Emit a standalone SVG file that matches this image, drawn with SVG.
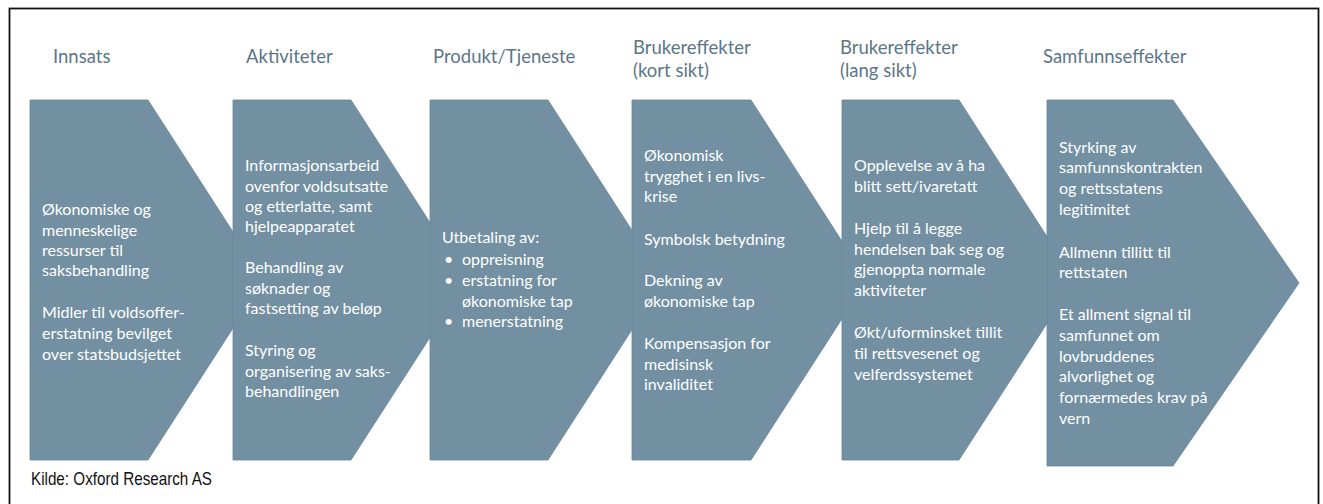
<svg xmlns="http://www.w3.org/2000/svg" width="1323" height="504" viewBox="0 0 1323 504">
<style>
.shape{fill:#7290A2;stroke:#68879A;stroke-width:0.8}
.hd{font-family:Lato,"Liberation Sans",sans-serif;font-size:18.5px;fill:#5D7687}
.tx{font-family:Lato,"Liberation Sans",sans-serif;font-size:16px;fill:#FFFFFF}
.src{font-family:"Liberation Sans Narrow","Liberation Sans",Arial,sans-serif;font-size:19px;fill:#111111}
</style>
<rect x="0" y="0" width="1323" height="504" fill="#FFFFFF"/>
<rect id="frame" x="9.5" y="8.5" width="1309" height="500" fill="none" stroke="#111111" stroke-width="1.8"/>
<g id="n1">
<text class="hd" x="53" y="63">Innsats</text>
<polygon class="shape" points="30,100 148,100 264,280 148,460 30,460"/>
<text class="tx"><tspan x="42" y="215">Økonomiske og</tspan><tspan x="42" y="236">menneskelige</tspan><tspan x="42" y="256">ressurser til</tspan><tspan x="42" y="276">saksbehandling</tspan><tspan x="42" y="318">Midler til voldsoffer-</tspan><tspan x="42" y="339">erstatning bevilget</tspan><tspan x="42" y="360">over statsbudsjettet</tspan></text>
</g>
<g id="n2">
<text class="hd" x="246" y="63">Aktiviteter</text>
<polygon class="shape" points="233,100 351,100 467,280 351,460 233,460"/>
<text class="tx"><tspan x="245" y="171">Informasjonsarbeid</tspan><tspan x="245" y="192">ovenfor voldsutsatte</tspan><tspan x="245" y="212">og etterlatte, samt</tspan><tspan x="245" y="232">hjelpeapparatet</tspan><tspan x="245" y="273">Behandling av</tspan><tspan x="245" y="294">søknader og</tspan><tspan x="245" y="314">fastsetting av beløp</tspan><tspan x="245" y="356">Styring og</tspan><tspan x="245" y="377">organisering av saks-</tspan><tspan x="245" y="397">behandlingen</tspan></text>
</g>
<g id="n3">
<text class="hd" x="433" y="63">Produkt/Tjeneste</text>
<polygon class="shape" points="430,100 548,100 664,280 548,460 430,460"/>
<text class="tx"><tspan x="442" y="243">Utbetaling av:</tspan><tspan x="444" y="265">•</tspan><tspan x="462" y="265">oppreisning</tspan><tspan x="444" y="286">•</tspan><tspan x="462" y="286">erstatning for</tspan><tspan x="462" y="307">økonomiske tap</tspan><tspan x="444" y="327">•</tspan><tspan x="462" y="327">menerstatning</tspan></text>
</g>
<g id="n4">
<text class="hd"><tspan x="633" y="54">Brukereffekter</tspan><tspan x="633" y="77">(kort sikt)</tspan></text>
<polygon class="shape" points="632,100 751,100 867,280 751,460 632,460"/>
<text class="tx"><tspan x="644" y="161">Økonomisk</tspan><tspan x="644" y="182">trygghet i en livs-</tspan><tspan x="644" y="202">krise</tspan><tspan x="644" y="245">Symbolsk betydning</tspan><tspan x="644" y="286">Dekning av</tspan><tspan x="644" y="307">økonomiske tap</tspan><tspan x="644" y="349">Kompensasjon for</tspan><tspan x="644" y="370">medisinsk</tspan><tspan x="644" y="390">invaliditet</tspan></text>
</g>
<g id="n5">
<text class="hd"><tspan x="840" y="54">Brukereffekter</tspan><tspan x="840" y="77">(lang sikt)</tspan></text>
<polygon class="shape" points="842,100 959,100 1075,280 959,460 842,460"/>
<text class="tx"><tspan x="854" y="171">Opplevelse av å ha</tspan><tspan x="854" y="192">blitt sett/ivaretatt</tspan><tspan x="854" y="234">Hjelp til å legge</tspan><tspan x="854" y="255">hendelsen bak seg og</tspan><tspan x="854" y="275">gjenoppta normale</tspan><tspan x="854" y="296">aktiviteter</tspan><tspan x="854" y="338">Økt/uforminsket tillit</tspan><tspan x="854" y="359">til rettsvesenet og</tspan><tspan x="854" y="380">velferdssystemet</tspan></text>
</g>
<g id="n6">
<text class="hd" x="1043" y="63">Samfunnseffekter</text>
<polygon class="shape" points="1047,100 1173,100 1299,283 1173,466 1047,466"/>
<text class="tx"><tspan x="1059" y="153">Styrking av</tspan><tspan x="1059" y="173">samfunnskontrakten</tspan><tspan x="1059" y="194">og rettsstatens</tspan><tspan x="1059" y="215">legitimitet</tspan><tspan x="1059" y="258">Allmenn tillitt til</tspan><tspan x="1059" y="278">rettstaten</tspan><tspan x="1059" y="320">Et allment signal til</tspan><tspan x="1059" y="341">samfunnet om</tspan><tspan x="1059" y="362">lovbruddenes</tspan><tspan x="1059" y="382">alvorlighet og</tspan><tspan x="1059" y="403">fornærmedes krav på</tspan><tspan x="1059" y="424">vern</tspan></text>
</g>
<g id="connectors"></g>
<text id="source" class="src" x="31" y="485" textLength="181" lengthAdjust="spacingAndGlyphs">Kilde: Oxford Research AS</text>
</svg>
